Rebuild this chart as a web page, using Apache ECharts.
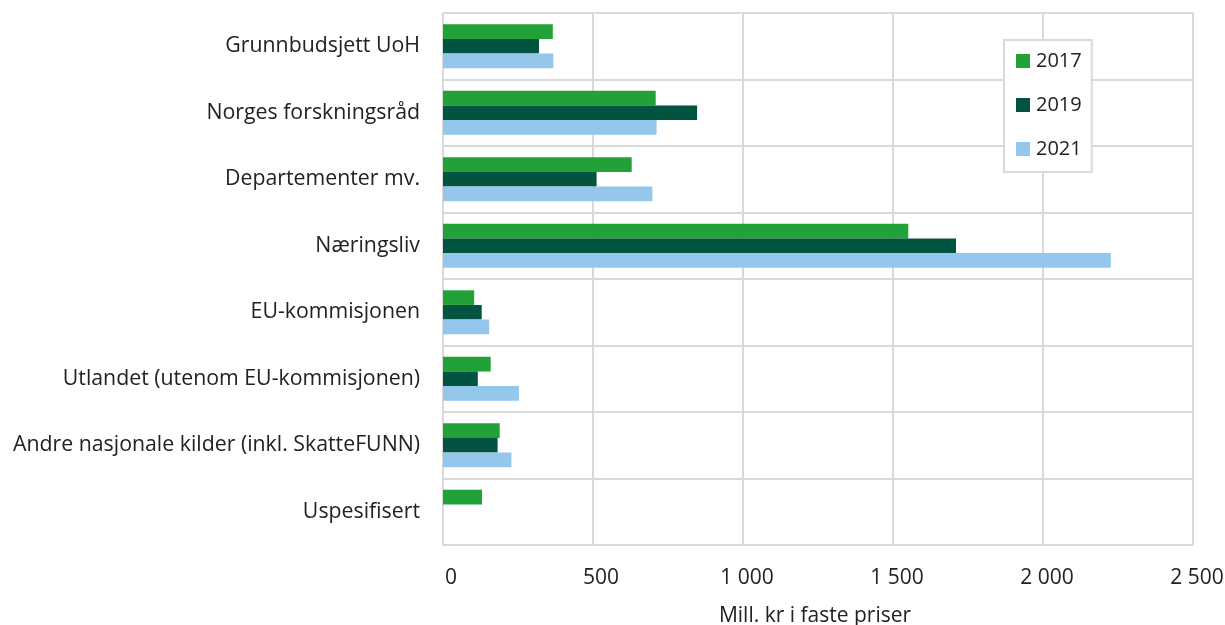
<!DOCTYPE html>
<html>
<head>
<meta charset="utf-8">
<script src="https://cdn.jsdelivr.net/npm/echarts@6/dist/echarts.min.js"></script>
<style>
html,body{margin:0;padding:0;background:#fff;overflow:hidden;}
#chart{width:1225px;height:625px;}
</style>
</head>
<body>
<div id="chart"></div>
<script>
const categories = [
  "Grunnbudsjett UoH",
  "Norges forskningsråd",
  "Departementer mv.",
  "Næringsliv",
  "EU-kommisjonen",
  "Utlandet (utenom EU-kommisjonen)",
  "Andre nasjonale kilder (inkl. SkatteFUNN)",
  "Uspesifisert"
];
const seriesNames = ["2017", "2019", "2021"];
const values2017 = [366, 709, 629, 1551, 104, 159, 189, 130];
const values2019 = [320, 847, 512, 1710, 129, 116, 182, 0];
const values2021 = [368, 712, 698, 2226, 154, 253, 228, 0];
const tickValues = [0, 500, 1000, 1500, 2000, 2500];
const tickLabels = ["0", "500", "1 000", "1 500", "2 000", "2 500"];
const axisTitle = "Mill. kr i faste priser";

const colors = ["#22A139", "#02533F", "#95C6EB"];
const FONT = "Open Sans";
const gridColor = "#d9d9d9";
const textColor = "#222";

const chart = echarts.init(document.getElementById('chart'), null, {renderer: 'canvas'});
const allValues = [values2017, values2019, values2021];
chart.setOption({
  animation: false,
  textStyle: {fontFamily: FONT},
  grid: {left: 443, right: 32, top: 13, bottom: 80, containLabel: false, outerBoundsMode: 'none'},
  legend: {
    orient: 'vertical',
    left: 1004, top: 40,
    data: seriesNames,
    icon: 'rect',
    itemWidth: 14, itemHeight: 14,
    itemGap: 24,
    padding: [11, 10, 13, 12],
    borderColor: gridColor, borderWidth: 2,
    backgroundColor: '#fff',
    textStyle: {fontFamily: FONT, fontSize: 20, color: textColor, padding: [0, 0, 0, 1]}
  },
  xAxis: {
    type: 'value', min: 0, max: 2500, interval: 500,
    name: axisTitle, nameLocation: 'middle', nameGap: 61,
    nameTextStyle: {fontFamily: FONT, fontSize: 21, color: textColor, padding: [0, 6, 0, 0]},
    axisLine: {show: false}, axisTick: {show: false},
    axisLabel: {
      fontFamily: FONT, fontSize: 21, color: textColor, margin: 23,
      formatter: v => {
        const i = tickValues.indexOf(v);
        const t = i >= 0 ? tickLabels[i] : String(v);
        return (v < 1000 ? '{a|' : '{b|') + t + '}';
      },
      rich: {
        a: {fontFamily: FONT, fontSize: 21, color: textColor, padding: [0, 0, 0, 16]},
        b: {fontFamily: FONT, fontSize: 21, color: textColor, padding: [0, 0, 0, 8]}
      }
    },
    splitLine: {show: true, lineStyle: {color: gridColor, width: 2}}
  },
  yAxis: {
    type: 'category', data: categories, inverse: true,
    axisLine: {show: true, lineStyle: {color: gridColor, width: 2}},
    axisTick: {show: false},
    axisLabel: {fontFamily: FONT, fontSize: 21.3, color: textColor, margin: 23},
    splitLine: {show: true, lineStyle: {color: gridColor, width: 2}}
  },
  series: seriesNames.map((n, i) => ({
    name: n, type: 'bar', data: allValues[i],
    barGap: '0%', barCategoryGap: '34%',
    itemStyle: {color: colors[i]}
  }))
});
</script>
</body>
</html>
